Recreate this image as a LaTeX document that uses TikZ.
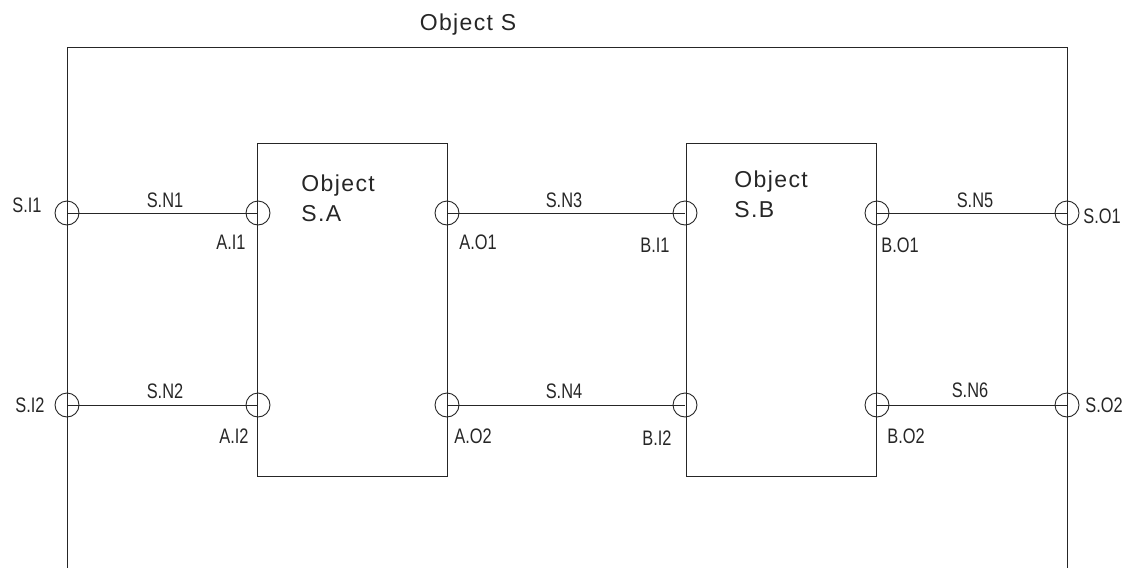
\documentclass[tikz,border=0pt]{standalone}
\usepackage{fontspec}
\setmainfont{Liberation Sans}
\newfontfamily\portfont[FakeStretch=0.78]{Liberation Sans}
\newfontfamily\objfont[LetterSpace=6]{Liberation Sans}
\begin{document}
\begin{tikzpicture}[x=1pt,y=-1pt,
  line width=0.9pt, draw=black!85, text=black!85,
  port/.style={circle,draw,minimum size=24pt,inner sep=0pt},
  block/.style={draw,minimum width=190pt,minimum height=333pt,inner sep=0pt},
  plabel/.style={font=\portfont\fontsize{21}{21}\selectfont,inner sep=0pt},
  olabel/.style={font=\objfont\fontsize{23}{23}\selectfont,inner sep=0pt,anchor=west}]
\useasboundingbox (0,0) rectangle (1128,568);
% outer object S (open at bottom)
\coordinate (fbl) at (67,568);
\coordinate (ftl) at (67,47);
\coordinate (ftr) at (1067,47);
\coordinate (fbr) at (1067,568);
\draw (fbl) -- (ftl) -- (ftr) -- (fbr);
\node[olabel,anchor=center] (tS) at (468,25) {Object S};
% blocks
\node[block] (A) at (352.5,309.5) {};
\node[block] (B) at (781,309.5) {};
\node[olabel] (tA1) at (301,186) {Object};
\node[olabel] (tA2) at (301,214) {S.A};
\node[olabel] (tB1) at (734,182) {Object};
\node[olabel] (tB2) at (734,210) {S.B};
% ports
\node[port] (sI1) at (67,213) {};
\node[port] (sI2) at (67,405) {};
\node[port] (aI1) at (258,213) {};
\node[port] (aI2) at (258,405) {};
\node[port] (aO1) at (447,213) {};
\node[port] (aO2) at (447,405) {};
\node[port] (bI1) at (685,213) {};
\node[port] (bI2) at (685,405) {};
\node[port] (bO1) at (877,213) {};
\node[port] (bO2) at (877,405) {};
\node[port] (sO1) at (1067,213) {};
\node[port] (sO2) at (1067,405) {};
% wires
\draw (sI1.center) -- (aI1.center);
\draw (sI2.center) -- (aI2.center);
\draw (aO1.center) -- (bI1.center);
\draw (aO2.center) -- (bI2.center);
\draw (bO1.center) -- (sO1.center);
\draw (bO2.center) -- (sO2.center);
% port labels
\node[plabel] (lsI1) at (27,205) {S.I1};
\node[plabel] (lsI2) at (30,405) {S.I2};
\node[plabel] (laI1) at (231,242) {A.I1};
\node[plabel] (laI2) at (234,436) {A.I2};
\node[plabel] (laO1) at (478,242) {A.O1};
\node[plabel] (laO2) at (473,436) {A.O2};
\node[plabel] (lbI1) at (655,245) {B.I1};
\node[plabel] (lbI2) at (657,438) {B.I2};
\node[plabel] (lbO1) at (900,245) {B.O1};
\node[plabel] (lbO2) at (906,436) {B.O2};
\node[plabel] (lsO1) at (1102,216) {S.O1};
\node[plabel] (lsO2) at (1104,405) {S.O2};
\node[plabel] (lN1) at (165,200) {S.N1};
\node[plabel] (lN2) at (165,391) {S.N2};
\node[plabel] (lN3) at (564,200) {S.N3};
\node[plabel] (lN4) at (564,391) {S.N4};
\node[plabel] (lN5) at (975,200) {S.N5};
\node[plabel] (lN6) at (970,390) {S.N6};
\end{tikzpicture}
\end{document}
